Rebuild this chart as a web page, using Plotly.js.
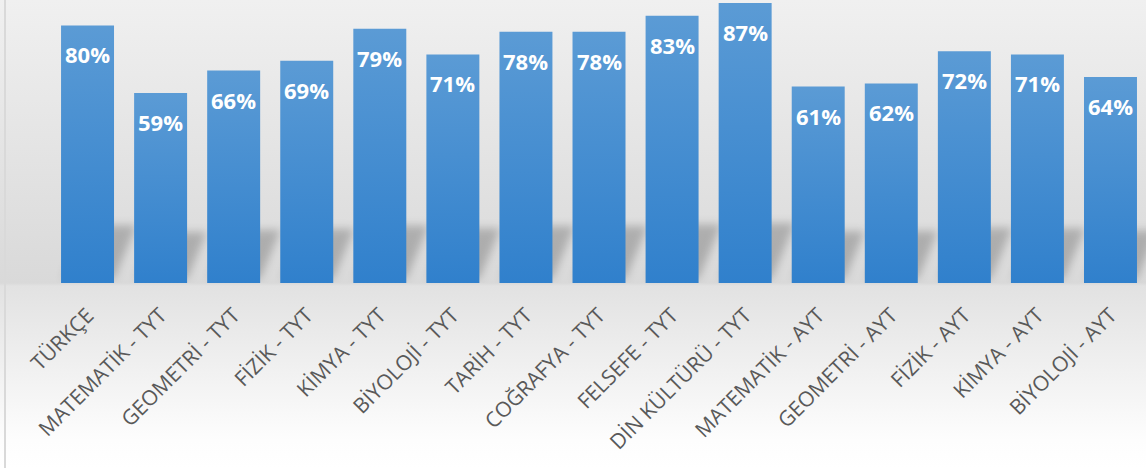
<!DOCTYPE html>
<html>
<head>
<meta charset="utf-8">
<script src="https://cdn.plot.ly/plotly-3.0.1.min.js"></script>
<style>
  html, body { margin: 0; padding: 0; background: #ffffff; }
  #chart {
    width: 1146px; height: 468px;
    background: linear-gradient(to bottom, #f0f0f0 0px, #d9d9d9 283px, #e2e2e2 286px, #fdfdfd 440px, #ffffff 468px);
  }
  #defs { position: absolute; width: 0; height: 0; overflow: hidden; }
</style>
</head>
<body>
<svg id="defs" width="0" height="0">
  <defs>
    <linearGradient id="barGrad" x1="0" y1="0" x2="0" y2="1">
      <stop offset="0%" stop-color="#5b9bd5"/>
      <stop offset="100%" stop-color="#3080cc"/>
    </linearGradient>
    <filter id="shadowBlur" x="-60%" y="-60%" width="220%" height="220%">
      <feGaussianBlur stdDeviation="4.5"/>
    </filter>
  </defs>
</svg>
<div id="chart"></div>
<script>
const categories = ['TÜRKÇE','MATEMATİK - TYT','GEOMETRİ - TYT','FİZİK - TYT','KİMYA - TYT','BİYOLOJİ - TYT','TARİH - TYT','COĞRAFYA - TYT','FELSEFE - TYT','DİN KÜLTÜRÜ - TYT','MATEMATİK - AYT','GEOMETRİ - AYT','FİZİK - AYT','KİMYA - AYT','BİYOLOJİ - AYT'];
const values = [80, 59, 66, 69, 79, 71, 78, 78, 83, 87, 61, 62, 72, 71, 64];
const valueLabels = values.map(v => v + '%');

const trace = {
  type: 'bar',
  x: categories,
  y: values,
  marker: { color: '#4a8fd2' },
  hoverinfo: 'none'
};

const annotations = categories.map((c, i) => ({
  x: c, y: values[i], xref: 'x', yref: 'y',
  text: valueLabels[i], showarrow: false,
  yanchor: 'middle', yshift: -29,
  font: { family: 'Open Sans', size: 22, color: '#ffffff', weight: 'bold' }
}));

const layout = {
  width: 1146, height: 468,
  margin: { l: 51, r: 0, t: 0, b: 185, pad: 0 },
  paper_bgcolor: 'rgba(0,0,0,0)',
  plot_bgcolor: 'rgba(0,0,0,0)',
  bargap: 0.275,
  showlegend: false,
  xaxis: {
    type: 'category',
    range: [-0.5, 14.486],
    tickangle: -45,
    ticks: '',
    ticklabelstandoff: 15,
    showgrid: false, zeroline: false, showline: false,
    tickfont: { family: 'Open Sans', size: 21, color: '#595959' },
    fixedrange: true
  },
  yaxis: {
    range: [0, 87.9],
    visible: false, showgrid: false, zeroline: false,
    fixedrange: true
  },
  annotations: annotations,
  shapes: [{
    type: 'line', xref: 'paper', yref: 'paper',
    x0: -0.042, x1: -0.042, y0: 1.01, y1: -0.66,
    line: { color: '#d9d9d9', width: 2 }
  }]
};

Plotly.newPlot('chart', [trace], layout, { displayModeBar: false, staticPlot: true }).then(gd => {
  const NS = 'http://www.w3.org/2000/svg';
  const barlayer = gd.querySelector('.barlayer');
  if (!barlayer) return;
  const paths = barlayer.querySelectorAll('.point path');
  const g = document.createElementNS(NS, 'g');
  g.setAttribute('filter', 'url(#shadowBlur)');
  paths.forEach(p => {
    const bb = p.getBBox();
    const h = 0.1 * bb.height + 28;
    const dx = 0.42 * h;
    const b = bb.y + bb.height - 4;
    const poly = document.createElementNS(NS, 'polygon');
    poly.setAttribute('points',
      `${bb.x + 2},${b} ${bb.x + bb.width},${b} ${bb.x + bb.width + dx},${b - h} ${bb.x + dx},${b - h}`);
    poly.setAttribute('fill', 'rgba(0,0,0,0.21)');
    g.appendChild(poly);
    p.style.fill = 'url(#barGrad)';
  });
  barlayer.insertBefore(g, barlayer.firstChild);
});
</script>
</body>
</html>
